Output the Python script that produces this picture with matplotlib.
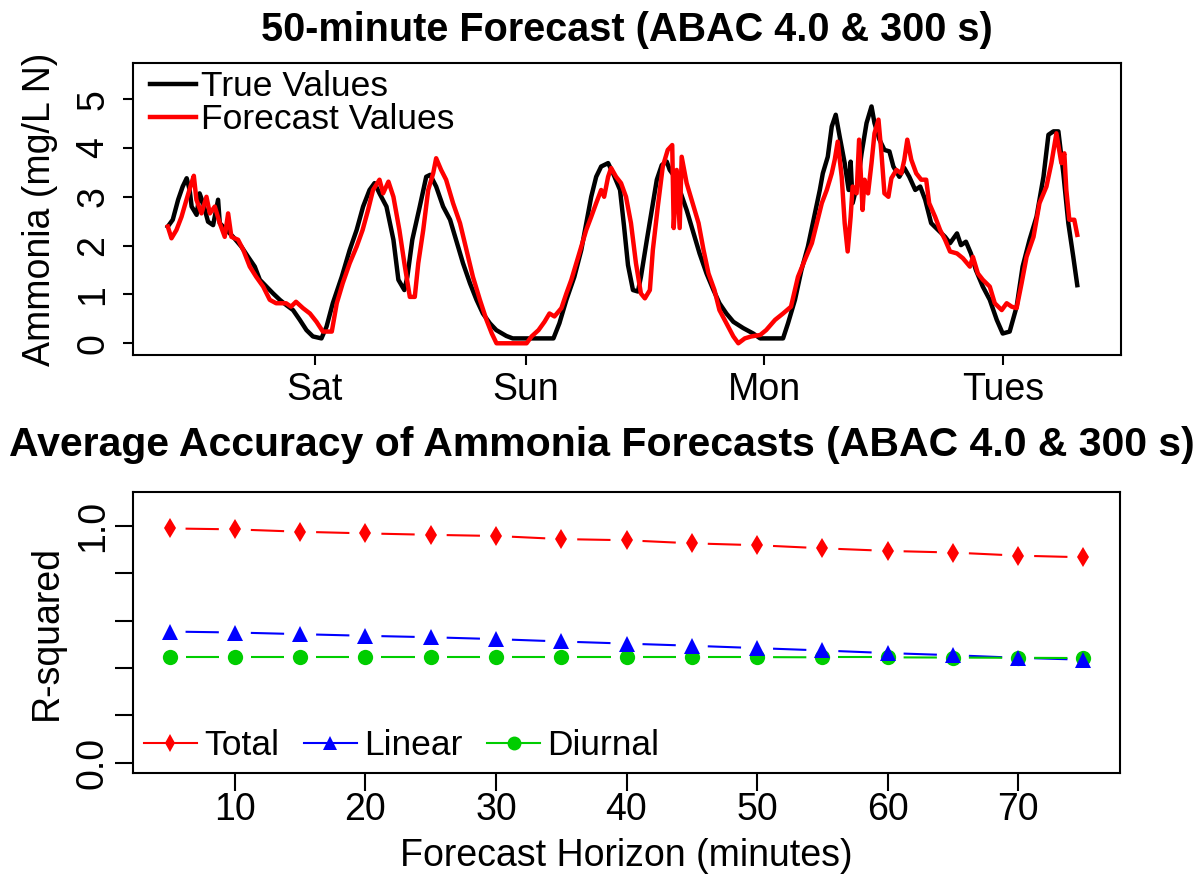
import numpy as np
import matplotlib
matplotlib.use("Agg")
import matplotlib.pyplot as plt
from matplotlib.lines import Line2D

plt.rcParams['font.family'] = ['Liberation Sans', 'DejaVu Sans']

# ---------------- data: top panel (hours from start, mg/L N) ----------------
true_t = [0, 0.5, 1.04, 1.5, 1.9, 2.2, 2.4, 2.9, 3.2, 3.55, 4.05, 4.56, 5.06, 5.23, 5.9, 6.57, 7.4, 8.08,
          8.75, 9.26, 9.93, 10.6, 11.27, 11.94, 12.6, 13.28, 13.95, 14.6, 15.46, 15.97, 16.6, 17.5, 18.3,
          19.0, 19.65, 20.3, 20.8, 21.3, 22.0, 22.7, 23.2, 23.8, 24.1, 24.6, 25.35, 26.0, 26.4, 27.0, 27.7,
          28.4, 29.0, 29.7, 30.4, 31.06, 31.7, 32.4, 33.05, 34.06, 34.7, 38.8, 39.4, 40.1, 40.9, 41.6, 42.1,
          42.6, 43.1, 43.6, 44.3, 44.8, 45.5, 45.9, 46.3, 46.8, 47.3, 47.6, 48.2, 48.7, 49.2, 49.7, 50.2,
          50.5, 51.0, 51.5, 52.2, 52.8, 53.5, 54.2, 54.9, 55.5, 56.2, 56.9, 57.9, 58.9, 59.6, 61.9, 62.4,
          63.1, 63.75, 64.4, 64.9, 65.6, 65.9, 66.4, 66.8, 67.2, 67.6, 68.1, 68.5, 68.7, 68.9, 69.4, 69.8,
          70.3, 70.8, 71.1, 71.6, 72.1, 72.6, 73.0, 73.6, 74.1, 74.6, 75.2, 75.7, 76.2, 76.8, 77.5, 78.2,
          78.7, 79.4, 79.8, 80.3, 80.8, 81.3, 82.0, 82.7, 83.4, 84.0, 84.7, 85.4, 86.0, 86.7, 87.4, 88.1,
          88.6, 89.1, 89.6, 90.1, 90.6, 91.1, 91.5]
true_v = [2.39, 2.53, 2.94, 3.21, 3.38, 3.14, 2.80, 2.63, 3.07, 2.87, 2.49, 2.42, 2.94, 2.46, 2.32, 2.18, 1.98, 1.77,
          1.57, 1.30, 1.16, 1.02, 0.89, 0.78, 0.68, 0.48, 0.27, 0.14, 0.10, 0.34, 0.82, 1.36, 1.91,
          2.32, 2.80, 3.14, 3.28, 3.07, 2.80, 2.12, 1.30, 1.09, 1.36, 2.12, 2.80, 3.41, 3.45, 3.21, 2.80,
          2.53, 2.12, 1.64, 1.23, 0.89, 0.61, 0.41, 0.27, 0.15, 0.10, 0.10, 0.41, 0.89, 1.36, 1.91, 2.46,
          3.00, 3.41, 3.62, 3.69, 3.48, 3.14, 2.40, 1.60, 1.09, 1.06, 1.36, 2.12, 2.73, 3.35, 3.65, 3.72,
          3.55, 3.41, 3.14, 2.73, 2.32, 1.84, 1.43, 1.09, 0.82, 0.61, 0.44, 0.31, 0.20, 0.10, 0.10, 0.41,
          0.89, 1.50, 1.98, 2.46, 3.14, 3.48, 3.82, 4.44, 4.68, 4.23, 3.69, 3.14, 3.72, 2.87, 3.28, 3.89,
          4.51, 4.85, 4.51, 4.17, 3.96, 3.93, 3.62, 3.41, 3.59, 3.41, 3.14, 3.21, 2.94, 2.46, 2.32, 2.18,
          2.05, 2.25, 2.01, 2.08, 1.84, 1.50, 1.16, 0.89, 0.48, 0.20, 0.24, 0.75, 1.57, 2.12, 2.59, 3.41,
          4.27, 4.34, 4.34, 3.48, 2.46, 1.77, 1.19]

fc_t = [0, 0.37, 0.87, 1.38, 1.88, 2.38, 2.62, 2.88, 3.39, 3.89, 4.23, 4.73, 5.23, 5.73, 6.07, 6.4, 7.07, 7.6,
        8.25, 8.9, 9.6, 10.26, 10.9, 11.9, 12.4, 12.9, 13.6, 14.3, 14.96, 15.6, 16.5, 17.0, 17.6, 18.3,
        19.0, 19.6, 20.15, 20.65, 21.3, 21.66, 22.2, 22.7, 23.3, 23.8, 24.35, 24.85, 25.2, 25.7, 26.2,
        26.7, 27.0, 27.5, 28.0, 28.7, 29.4, 30.05, 30.7, 31.4, 32.06, 32.6, 33.07, 36.1, 36.6, 37.3,
        37.9, 38.4, 38.9, 39.6, 40.1, 40.6, 41.1, 41.6, 42.1, 42.6, 43.1, 43.6, 43.9, 44.3, 44.6, 45.1,
        45.6, 46.1, 46.6, 47.1, 47.6, 48.0, 48.5, 48.8, 49.3, 49.8, 50.3, 50.75, 50.9, 51.2, 51.5, 51.7,
        52.2, 52.7, 53.4, 53.9, 54.4, 55.0, 55.5, 56.2, 56.9, 57.4, 58.05, 58.7, 59.6, 60.2, 61.1, 61.9,
        62.7, 63.4, 64.1, 64.8, 65.3, 65.8, 66.3, 66.8, 67.1, 67.4, 67.8, 68.1, 68.4, 68.7, 68.9, 69.3,
        69.55, 69.9, 70.1, 70.45, 70.8, 71.1, 71.5, 71.8, 72.1, 72.5, 72.8, 73.3, 73.8, 74.1, 74.4, 74.8,
        75.3, 75.8, 76.3, 76.6, 77.2, 77.7, 78.2, 78.7, 79.4, 80.0, 80.7, 81.0, 81.5, 82.0, 82.7, 83.2,
        83.9, 84.4, 84.9, 85.4, 85.9, 86.4, 87.1, 87.7, 88.4, 88.9, 89.4, 89.9, 90.2, 90.4, 90.7, 91.2, 91.5]
fc_v = [2.39, 2.15, 2.32, 2.59, 2.94, 3.28, 3.43, 2.94, 2.66, 3.00, 2.66, 2.80, 2.46, 2.18, 2.66, 2.18, 2.12, 1.91,
        1.57, 1.36, 1.16, 0.89, 0.82, 0.82, 0.75, 0.85, 0.72, 0.61, 0.44, 0.24, 0.24, 0.82, 1.23, 1.64,
        1.98, 2.32, 2.73, 3.14, 3.35, 3.07, 3.31, 3.00, 2.32, 1.64, 0.95, 0.95, 1.64, 2.32, 3.14,
        3.48, 3.79, 3.55, 3.35, 2.87, 2.46, 1.91, 1.36, 0.89, 0.48, 0.20, 0.00, 0.00, 0.14, 0.27,
        0.44, 0.61, 0.55, 0.72, 1.02, 1.30, 1.64, 1.98, 2.32, 2.59, 2.87, 3.14, 3.00, 3.41, 3.59, 3.41,
        3.28, 3.00, 2.46, 1.64, 1.02, 0.92, 1.09, 1.91, 2.80, 3.62, 3.96, 4.06, 2.36, 3.55, 2.36, 3.82,
        3.28, 2.94, 2.46, 1.91, 1.43, 1.09, 0.68, 0.41, 0.14, 0.00, 0.10, 0.14, 0.17, 0.27, 0.48, 0.61,
        0.75, 1.36, 1.71, 2.05, 2.46, 2.87, 3.14, 3.48, 3.76, 4.13, 3.41, 2.46, 1.88, 2.59, 3.21, 3.07,
        4.17, 2.73, 3.35, 3.07, 3.69, 4.30, 4.58, 3.89, 3.07, 3.00, 3.38, 3.55, 3.48, 3.76, 4.17, 3.76,
        3.48, 3.35, 3.35, 2.87, 2.59, 2.32, 2.12, 1.88, 1.84, 1.74, 1.57, 1.77, 1.43, 1.30, 1.16, 0.82,
        0.68, 0.82, 0.75, 0.72, 1.23, 1.77, 2.18, 2.87, 3.21, 3.69, 4.30, 3.69, 3.89, 3.14, 2.53, 2.53, 2.22]

day_ticks = [14.8, 36, 60, 84]
day_labels = ['Sat', 'Sun', 'Mon', 'Tues']

# ---------------- data: bottom panel ----------------
horizon = [5, 10, 15, 20, 25, 30, 35, 40, 45, 50, 55, 60, 65, 70, 75]
r2_total = [0.990, 0.986, 0.976, 0.969, 0.963, 0.958, 0.945, 0.940, 0.927, 0.919, 0.906, 0.895, 0.888, 0.875, 0.868]
r2_linear = [0.554, 0.550, 0.543, 0.536, 0.530, 0.522, 0.512, 0.503, 0.494, 0.484, 0.474, 0.463, 0.454, 0.443, 0.435]
r2_diurnal = [0.446, 0.446, 0.446, 0.446, 0.446, 0.446, 0.446, 0.446, 0.446, 0.446, 0.445, 0.445, 0.444, 0.443, 0.442]

RED = '#FF0000'
BLUE = '#0000FF'
GREEN = '#00CD00'

W, H = 1201, 877
fig = plt.figure(figsize=(W / 100, H / 100), dpi=100)

ax1 = fig.add_axes([133 / W, 1 - 355 / H, 988 / W, 292 / H])
ax2 = fig.add_axes([133 / W, 1 - 773 / H, 987 / W, 281 / H])

TICK_FS = 27
LAB_FS = 27

# ---------------- top panel ----------------
ax1.plot(true_t, true_v, color='black', lw=3.2, label='True Values', solid_joinstyle='round')
ax1.plot(fc_t, fc_v, color=RED, lw=3.2, label='Forecast Values', solid_joinstyle='round')
ax1.set_xlim(-3.5, 95.9)
ax1.set_ylim(-0.24, 5.74)
ax1.set_xticks(day_ticks)
ax1.set_xticklabels(day_labels)
ax1.set_yticks([0, 1, 2, 3, 4, 5])
ax1.set_yticklabels(['0', '1', '2', '3', '4', '5'], rotation=90, va='center')
ax1.tick_params(axis='both', direction='out', length=7, width=1.5, labelsize=TICK_FS)
ax1.tick_params(axis='x', pad=5)
ax1.tick_params(axis='y', pad=8.5)
ax1.set_ylabel('Ammonia (mg/L N)', fontsize=LAB_FS)
ax1.yaxis.set_label_coords(-0.076, 0.5)
for s in ax1.spines.values():
    s.set_linewidth(1.5)
ax1.legend(loc='upper left', bbox_to_anchor=(17 / 988, 0.975), frameon=False, fontsize=25.5,
           handlelength=1.3, handletextpad=0.15, borderaxespad=0.0, borderpad=0.0, labelspacing=0.0)
fig.text(627 / W, 1 - 30 / H, '50-minute Forecast (ABAC 4.0 & 300 s)', ha='center', va='center',
         fontsize=28.5, fontweight='bold')

# ---------------- bottom panel ----------------
ax2.set_xlim(2.2, 77.8)
ax2.set_ylim(-0.044, 1.144)
ax2.set_xticks([10, 20, 30, 40, 50, 60, 70])
ax2.set_yticks([0.0, 0.2, 0.4, 0.6, 0.8, 1.0])
ax2.set_yticklabels(['0.0', '', '', '', '', '1.0'], rotation=90, va='center')
ax2.tick_params(axis='both', direction='out', length=13, width=1.5, labelsize=TICK_FS)
ax2.tick_params(axis='x', pad=1)
ax2.tick_params(axis='y', pad=3)
for s in ax2.spines.values():
    s.set_linewidth(1.5)


def gapped_line(ax, x, y, color, gap_px=16, lw=1.5):
    pts = ax.transData.transform(np.column_stack([x, y]))
    inv = ax.transData.inverted()
    for p0, p1 in zip(pts[:-1], pts[1:]):
        d = p1 - p0
        L = np.hypot(d[0], d[1])
        if L <= 2 * gap_px:
            continue
        u = d / L
        seg = inv.transform(np.array([p0 + u * gap_px, p1 - u * gap_px]))
        ax.plot(seg[:, 0], seg[:, 1], color=color, lw=lw, solid_capstyle='butt')


series = [(r2_total, RED, 'd', 10, 'Total'),
          (r2_linear, BLUE, '^', 11, 'Linear'),
          (r2_diurnal, GREEN, 'o', 11, 'Diurnal')]
handles = []
for vals, col, mk, ms, lab in series:
    gapped_line(ax2, horizon, vals, col)
for vals, col, mk, ms, lab in series[::-1]:
    ax2.plot(horizon, vals, linestyle='none', marker=mk, markersize=ms, color=col, markeredgewidth=0)
for vals, col, mk, ms, lab in series:
    handles.append(Line2D([], [], color=col, lw=1.5, marker=mk, markersize=ms - 1, markeredgewidth=0, label=lab))

ax2.legend(handles=handles, loc='lower left', ncol=3, frameon=False, fontsize=25.5, handlelength=1.5,
           handletextpad=0.2, columnspacing=0.7, borderaxespad=0.0, borderpad=0.3, numpoints=1)
ax2.set_ylabel('R-squared', fontsize=LAB_FS)
ax2.yaxis.set_label_coords(-0.069, 0.5)
ax2.set_xlabel('Forecast Horizon (minutes)', fontsize=LAB_FS)
ax2.xaxis.set_label_coords(0.5, -0.23)
fig.text(602 / W, 1 - 445 / H, 'Average Accuracy of Ammonia Forecasts (ABAC 4.0 & 300 s)', ha='center',
         va='center', fontsize=29.5, fontweight='bold')

fig.savefig('out.png', dpi=100)
